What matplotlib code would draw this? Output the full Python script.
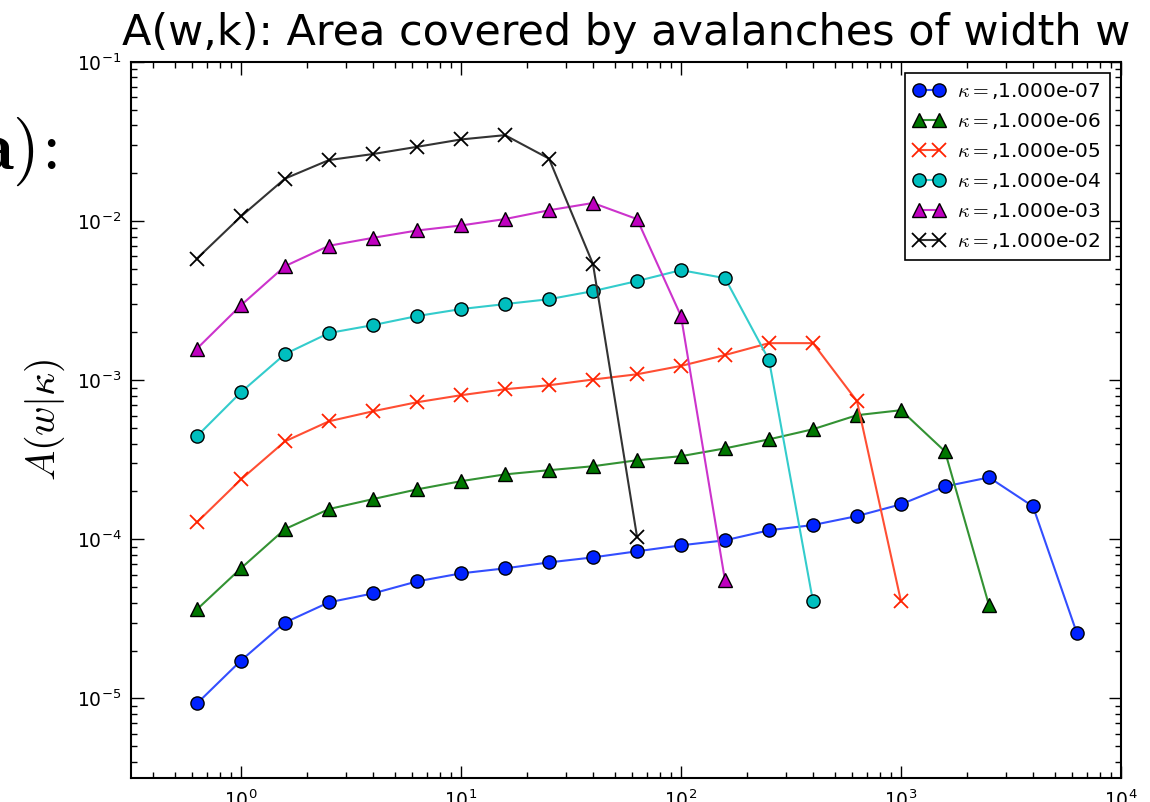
import matplotlib
matplotlib.use("Agg")
import matplotlib.pyplot as plt
from matplotlib.colors import to_rgb

plt.rcParams['mathtext.fontset'] = 'cm'

# avalanche widths (log-spaced bins)
widths = [0.631, 1.0, 1.585, 2.512, 3.981, 6.310, 10.0, 15.85, 25.12, 39.81,
          63.10, 100.0, 158.5, 251.2, 398.1, 631.0, 1000.0, 1585.0, 2512.0,
          3981.0, 6310.0]

kappas = [1e-7, 1e-6, 1e-5, 1e-4, 1e-3, 1e-2]

area_k7 = [9.3e-6, 1.73e-5, 3.0e-5, 4.02e-5, 4.57e-5, 5.44e-5, 6.11e-5, 6.57e-5,
           7.16e-5, 7.70e-5, 8.41e-5, 9.17e-5, 9.86e-5, 1.14e-4, 1.23e-4,
           1.40e-4, 1.66e-4, 2.15e-4, 2.45e-4, 1.61e-4, 2.56e-5]
area_k6 = [3.63e-5, 6.58e-5, 1.16e-4, 1.55e-4, 1.79e-4, 2.06e-4, 2.32e-4,
           2.56e-4, 2.72e-4, 2.88e-4, 3.14e-4, 3.33e-4, 3.73e-4, 4.25e-4,
           4.92e-4, 6.03e-4, 6.48e-4, 3.57e-4, 3.85e-5]
area_k5 = [1.28e-4, 2.38e-4, 4.13e-4, 5.52e-4, 6.38e-4, 7.27e-4, 8.05e-4,
           8.78e-4, 9.30e-4, 1.01e-3, 1.09e-3, 1.23e-3, 1.44e-3, 1.71e-3,
           1.71e-3, 7.38e-4, 4.07e-5]
area_k4 = [4.45e-4, 8.41e-4, 1.46e-3, 1.98e-3, 2.22e-3, 2.53e-3, 2.80e-3,
           3.01e-3, 3.23e-3, 3.63e-3, 4.20e-3, 4.92e-3, 4.38e-3, 1.34e-3,
           4.07e-5]
area_k3 = [1.58e-3, 2.96e-3, 5.21e-3, 7.00e-3, 7.85e-3, 8.73e-3, 9.39e-3,
           1.03e-2, 1.17e-2, 1.30e-2, 1.03e-2, 2.53e-3, 5.52e-5]
area_k2 = [5.82e-3, 1.07e-2, 1.85e-2, 2.42e-2, 2.64e-2, 2.93e-2, 3.26e-2,
           3.47e-2, 2.47e-2, 5.37e-3, 1.04e-4]

areas = [area_k7, area_k6, area_k5, area_k4, area_k3, area_k2]
colors = ['#0022ff', '#007700', '#ff2200', '#00bfbf', '#bf00bf', '#000000']
markers = ['o', '^', 'x', 'o', '^', 'x']


def lighten(c, f=0.2):
    r, g, b = to_rgb(c)
    return (r + (1 - r) * f, g + (1 - g) * f, b + (1 - b) * f)


fig = plt.figure(figsize=(11.5, 8.02), dpi=100)
ax = fig.add_axes([131 / 1150, 24 / 802, 990 / 1150, 716 / 802])

for k, a, c, m in zip(kappas, areas, colors, markers):
    if m == 'x':
        ax.plot(widths[:len(a)], a, marker=m, color=lighten(c), lw=1.5,
                ms=10, mew=1.3, mec=c, label=r'$\kappa=$,%.3e' % k)
    else:
        ax.plot(widths[:len(a)], a, marker=m, color=lighten(c), lw=1.5,
                ms=9.5, mew=1.0, mfc=c, mec='k', label=r'$\kappa=$,%.3e' % k)

ax.set_xscale('log')
ax.set_yscale('log')
ax.set_xlim(10 ** -0.5, 1e4)
ax.set_ylim(10 ** -5.5, 1e-1)

ax.tick_params(which='both', direction='in', top=True, right=True,
               labelsize=13.5, width=1)
ax.tick_params(which='major', length=9)
ax.tick_params(which='minor', length=4.5)
ax.tick_params(axis='x', pad=8)
ax.tick_params(axis='y', pad=7)
for s in ax.spines.values():
    s.set_linewidth(1.5)

ax.set_title('A(w,k): Area covered by avalanches of width w',
             fontsize=31, pad=12)
ax.set_ylabel(r'$A(w|\kappa)$', fontsize=29)
ax.yaxis.label.set_va('center')
ax.yaxis.set_label_coords(-0.087, 0.5)

leg = ax.legend(loc='upper right', numpoints=2, fontsize=14.5, fancybox=False,
                framealpha=1, labelspacing=0.5, handlelength=1.6,
                handletextpad=0.6, borderaxespad=0.55)
leg.get_frame().set_edgecolor('black')
leg.get_frame().set_linewidth(1.2)

# panel label, partly off the left edge
fig.text(-21 / 1150, 1 - 152 / 802, r'$\mathbf{a)\!:}$',
         fontsize=50, ha='left', va='center')

fig.savefig('out.png', dpi=100)
